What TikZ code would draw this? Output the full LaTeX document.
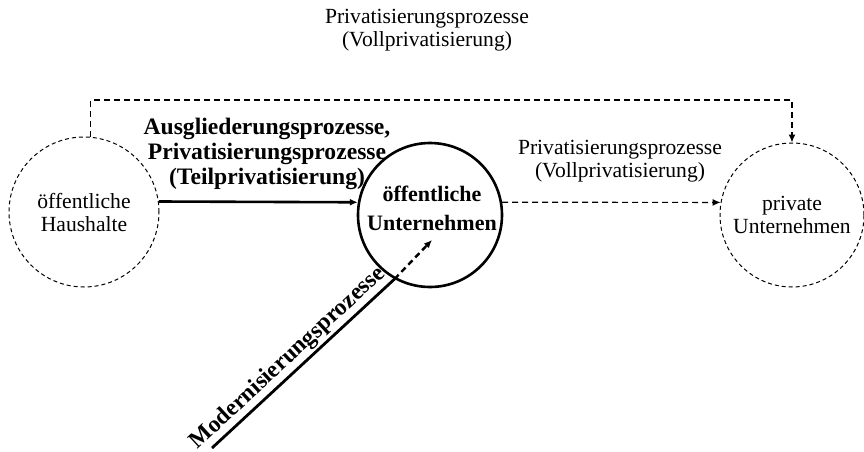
\documentclass[tikz,border=0pt]{standalone}
\usepackage{fontspec}
\setmainfont{Liberation Serif}
\usepackage{tikz}
\usetikzlibrary{arrows.meta, positioning, calc}
\tikzset{
  krs/.style   ={circle, draw=black, line width=0.5pt, dash pattern=on 2pt off 1.5pt,
                 minimum size=72pt, inner sep=0pt, align=center,
                 font=\fontsize{10.8}{11.5}\selectfont},
  krsb/.style  ={circle, draw=black, line width=1.3pt, minimum size=72pt, inner sep=0pt},
  txtb/.style  ={align=center, inner sep=0pt, font=\bfseries\fontsize{11}{14.5}\selectfont},
  lbl/.style   ={align=center, inner sep=0pt, font=\fontsize{10.8}{11.5}\selectfont},
  lblb/.style  ={align=center, inner sep=0pt, font=\bfseries\fontsize{11.8}{12.5}\selectfont},
  ar/.style    ={-{Latex[length=4pt,width=3.5pt]}, line width=1.3pt},
  ard/.style   ={-{Latex[length=4pt,width=3.5pt]}, line width=0.6pt, dash pattern=on 3pt off 2pt},
}
\begin{document}
\begin{tikzpicture}[x=0.5pt, y=-0.5pt]
\useasboundingbox (0,0) rectangle (864,451);
\node[krs, minimum size=75pt] (lh) at (84,212) {öffentliche\\Haushalte};
\node[krsb] (oeu) at (430,215) {};
\node[txtb] (oeut) at (432,208) {öffentliche\\Unternehmen};
\node[krs] (pu) at (792,215) {private\\Unternehmen};
\node[lbl] (topl) at (427,30) {Privatisierungsprozesse\\(Vollprivatisierung)};
\node[lblb] (teil) at (267,154) {Ausgliederungsprozesse,\\Privatisierungsprozesse\\(Teilprivatisierung)};
\node[lbl] (voll) at (620,161) {Privatisierungsprozesse\\(Vollprivatisierung)};
\coordinate (bar) at (440,100);
\coordinate (mstart) at (212,448);
\coordinate (mtip) at (432,240);
% Verbindungen
\draw[ard] (lh.85) |- (bar) -| (pu.north);
\draw[ar] (lh.8) -- (oeu.170);
\draw[ard] (oeu.10) -- (pu.170);
\draw[line width=1.4pt] (mstart) -- node[pos=0.47, sloped, above=1pt, lblb] {Modernisierungsprozesse} (oeu.241);
\draw[ard, line width=1.2pt] (oeu.241) -- (mtip);
\end{tikzpicture}
\end{document}
